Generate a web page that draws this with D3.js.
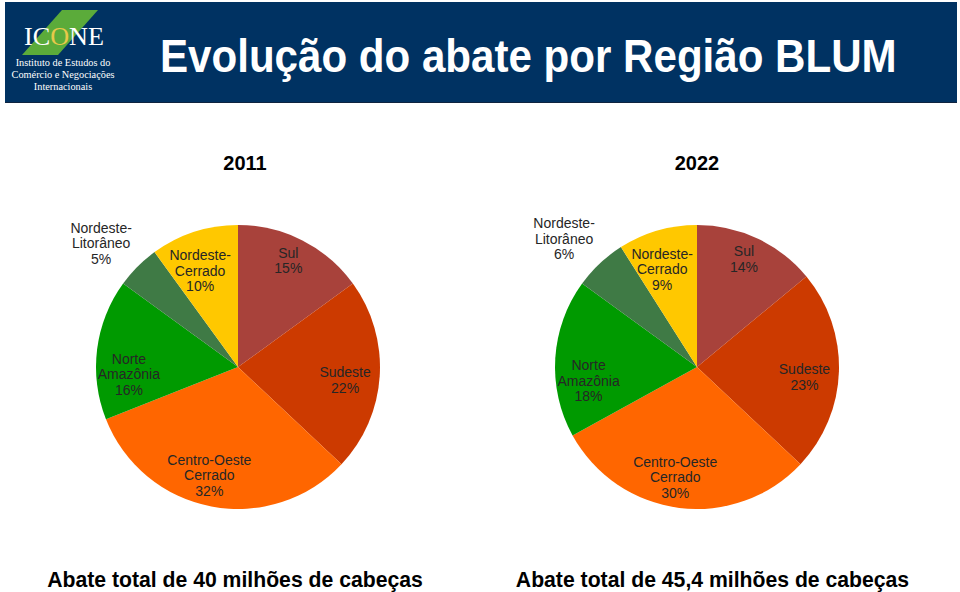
<!DOCTYPE html>
<html>
<head>
<meta charset="utf-8">
<script src="https://cdn.jsdelivr.net/npm/d3@7"></script>
<style>
  html, body { margin: 0; padding: 0; background: #fff; }
  svg { display: block; }
</style>
</head>
<body>
<svg id="chart" width="960" height="592"></svg>
<script>
// ---- Data ----
const regions = ["Sul", "Sudeste", "Centro-Oeste Cerrado", "Norte Amazônia", "Nordeste-Litorâneo", "Nordeste-Cerrado"];
const labelLines = [["Sul"], ["Sudeste"], ["Centro-Oeste", "Cerrado"], ["Norte", "Amazônia"], ["Nordeste-", "Litorâneo"], ["Nordeste-", "Cerrado"]];
const values2011 = [15, 22, 32, 16, 5, 10];
const values2022 = [14, 23, 30, 18, 6, 9];
const years = ["2011", "2022"];
const totals = ["Abate total de 40 milhões de cabeças", "Abate total de 45,4 milhões de cabeças"];
const title = "Evolução do abate por Região BLUM";

// ---- Style ----
const colors = ["#a8423b", "#cc3a00", "#ff6600", "#009a00", "#3f7a45", "#ffc800"];
const labelRadiusFactor = [0.83, 0.76, 0.79, 0.77, 1.30, 0.73];
const labelAngleShift = [-0.03, 0.06, 0.07, -0.19, -0.05, -0.06];

const svg = d3.select("#chart");

// Header banner
svg.append("rect").attr("x", 5).attr("y", 2).attr("width", 952).attr("height", 101).attr("fill", "#003262");
svg.append("line").attr("x1", 5).attr("x2", 957).attr("y1", 102.5).attr("y2", 102.5).attr("stroke", "#0f2440").attr("stroke-width", 1);

// Logo
const logo = svg.append("g");
logo.append("path").attr("d", "M62,10 L98,10 L58,55 L22,55 Z").attr("fill", "#5bab3a");
logo.append("text").attr("x", 24).attr("y", 45).attr("font-family", "Liberation Serif, DejaVu Serif, serif")
  .attr("font-size", 26).attr("fill", "#fff").attr("textLength", 80).attr("lengthAdjust", "spacingAndGlyphs")
  .html('IC<tspan fill="#e8c84a">O</tspan>NE');
const logoLines = ["Instituto de Estudos do", "Comércio e Negociações", "Internacionais"];
logo.selectAll("text.sub").data(logoLines).join("text").attr("class", "sub")
  .attr("x", 63).attr("y", (d, i) => 65.5 + i * 12.3)
  .attr("text-anchor", "middle").attr("font-family", "Liberation Serif, DejaVu Serif, serif")
  .attr("font-size", 10.3).attr("fill", "#fff").text(d => d);

// Title (condensed by horizontal scaling to match the narrow face)
const titleText = svg.append("text").attr("x", 0).attr("y", 0)
  .attr("font-family", "Liberation Sans, Arial, sans-serif")
  .attr("font-weight", "bold").attr("font-size", 46).attr("fill", "#fff")
  .text(title);
const natural = titleText.node().getComputedTextLength();
const sx = 737 / natural;
titleText.attr("transform", `translate(160,72) scale(${sx},1)`);

// Pies
const r = 142;
const centers = [[238, 367], [697, 367]];
const datasets = [values2011, values2022];
const pie = d3.pie().sort(null).value(d => d);
const arc = d3.arc().innerRadius(0).outerRadius(r);

datasets.forEach((vals, k) => {
  const g = svg.append("g").attr("transform", `translate(${centers[k][0]},${centers[k][1]})`);
  const arcs = pie(vals);
  g.selectAll("path").data(arcs).join("path")
    .attr("d", arc).attr("fill", (d, i) => colors[i]);

  arcs.forEach((a, i) => {
    const mid = (a.startAngle + a.endAngle) / 2 + labelAngleShift[i];
    const rr = r * labelRadiusFactor[i];
    const x = Math.sin(mid) * rr;
    const y = -Math.cos(mid) * rr;
    const lines = labelLines[i].concat([vals[i] + "%"]);
    const n = lines.length;
    const t = g.append("text").attr("text-anchor", "middle")
      .attr("font-family", "Liberation Sans, Arial, sans-serif").attr("font-size", 14).attr("fill", "#262626");
    lines.forEach((ln, j) => {
      t.append("tspan").attr("x", x).attr("y", y + (j - (n - 1) / 2) * 15.5 + 5).text(ln);
    });
  });

  // Year title
  svg.append("text").attr("x", k === 0 ? 245 : 697).attr("y", 170)
    .attr("text-anchor", "middle").attr("font-family", "Liberation Sans, Arial, sans-serif")
    .attr("font-weight", "bold").attr("font-size", 20).attr("fill", "#000").text(years[k]);

  // Totals
  svg.append("text").attr("x", k === 0 ? 235 : 712.5).attr("y", 587)
    .attr("text-anchor", "middle").attr("font-family", "Liberation Sans, Arial, sans-serif")
    .attr("font-weight", "bold").attr("font-size", 21.2).attr("fill", "#000").text(totals[k]);
});
</script>
</body>
</html>
